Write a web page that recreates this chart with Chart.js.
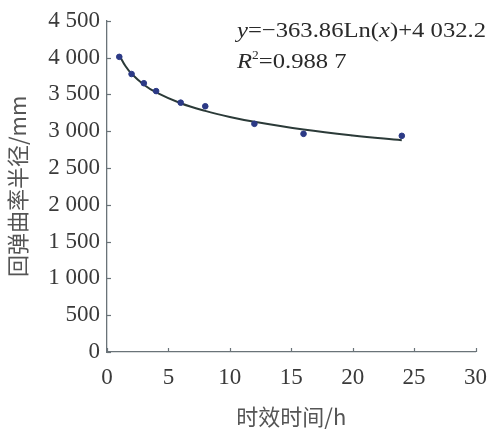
<!DOCTYPE html>
<html><head><meta charset="utf-8">
<script src="https://cdn.jsdelivr.net/npm/chart.js@4"></script>
<style>html,body{margin:0;padding:0;background:#fff}#wrap{width:499px;height:434px}</style>
</head><body><div id="wrap"><canvas id="c" width="499" height="434"></canvas></div>
<script>
const agingHours = [1, 2, 3, 4, 6, 8, 12, 16, 24];
const radiusMm = [4010, 3777, 3652, 3545, 3388, 3339, 3100, 2964, 2937];
const fitHours = [1, 1.5, 2, 3, 4, 6, 8, 10, 12, 16, 20, 24];
const fitRadius = [4032, 3885, 3780, 3632, 3528, 3380, 3276, 3194, 3128, 3023, 2942, 2876];
const xTicks = [0, 5, 10, 15, 20, 25, 30];
const yTicks = [0, 500, 1000, 1500, 2000, 2500, 3000, 3500, 4000, 4500];

function fmt(v){ const s=String(v); return s.length>3 ? s.slice(0,s.length-3)+' '+s.slice(-3) : s; }

const innerTicks = {
  id:'innerTicks',
  afterDraw(chart){
    const c=chart.ctx, xs=chart.scales.x, ys=chart.scales.y;
    c.save(); c.strokeStyle='#6a7378'; c.lineWidth=1.2;
    xTicks.forEach(v=>{const p=Math.round(xs.getPixelForValue(v))+0.5; c.beginPath(); c.moveTo(p,ys.bottom); c.lineTo(p,ys.bottom-4); c.stroke();});
    yTicks.forEach(v=>{const p=Math.round(ys.getPixelForValue(v))+0.5; c.beginPath(); c.moveTo(xs.left,p); c.lineTo(xs.left+4,p); c.stroke();});
    c.restore();
    // equation text
    c.save();
    c.translate(237,0); c.scale(1.12,1);
    c.fillStyle='#2a2a2a'; c.textBaseline='alphabetic';
    const I='italic 22px "Liberation Serif"', N='22px "Liberation Serif"';
    const parts1=[['y',I],['=\u2212363.86Ln',N],['(',N],['x',I],[')+4 032.2',N]];
    let w=0, y0=37;
    parts1.forEach(([t,f])=>{c.font=f; c.fillText(t,w,y0); w+=c.measureText(t).width;});
    y0=68; w=0;
    c.font=I; c.fillText('R',0,y0); w=c.measureText('R').width;
    c.font='12px "Liberation Serif"'; c.fillText('2',w,y0-9); w+=c.measureText('2').width;
    c.font=N; c.fillText('=0.988 7',w,y0);
    c.restore();
  }
};

new Chart(document.getElementById('c'), {
  type:'scatter',
  data:{datasets:[
    {label:'fit', type:'line', data:fitHours.map((h,i)=>({x:h,y:fitRadius[i]})), borderColor:'#2b3a38', borderWidth:2, pointRadius:0, tension:0.4, fill:false, order:2},
    {label:'data', data:agingHours.map((h,i)=>({x:h,y:radiusMm[i]})), backgroundColor:'#2c3a86', borderColor:'#2c3a86', pointRadius:2.8, order:1}
  ]},
  options:{
    responsive:false, animation:false, devicePixelRatio:1,
    layout:{padding:{top:16,right:21,left:0,bottom:0}},
    plugins:{legend:{display:false}, tooltip:{enabled:false}},
    scales:{
      x:{type:'linear', min:0, max:30,
        afterBuildTicks(s){s.ticks=xTicks.map(v=>({value:v}));},
        afterFit(s){s.height=82;},
        grid:{display:false, drawTicks:false},
        border:{display:true, color:'#6a7378', width:1.3},
        ticks:{padding:12, color:'#3a3a3a', font:{family:'"Liberation Serif"', size:23}, maxRotation:0, autoSkip:false},
        title:{display:true, text:'时效时间/h', color:'#555', font:{family:'"Noto Sans CJK SC"', size:22}, padding:{top:9}}
      },
      y:{type:'linear', min:0, max:4500,
        afterBuildTicks(s){s.ticks=yTicks.map(v=>({value:v}));},
        afterFit(s){s.width=107;},
        grid:{display:false, drawTicks:false},
        border:{display:true, color:'#6a7378', width:1.3},
        ticks:{padding:7, color:'#3a3a3a', font:{family:'"Liberation Serif"', size:23}, autoSkip:false, callback:v=>fmt(v)},
        title:{display:true, text:'回弹曲率半径/mm', color:'#555', font:{family:'"Noto Sans CJK SC"', size:22}, padding:{top:4,bottom:0}}
      }
    }
  },
  plugins:[innerTicks]
});
</script></body></html>
